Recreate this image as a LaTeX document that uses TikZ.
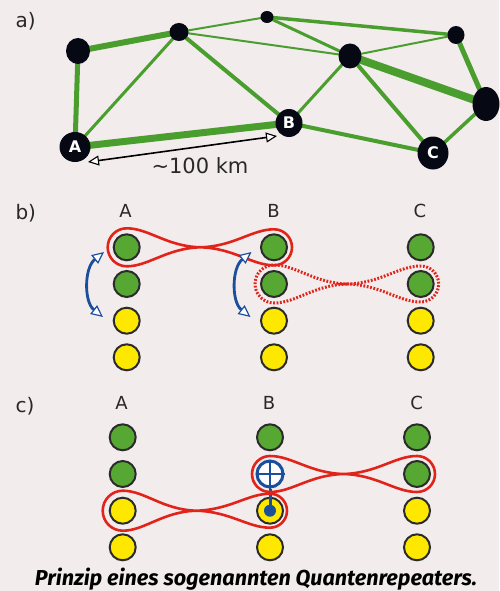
\documentclass[tikz,border=0pt]{standalone}
\usepackage{fontspec}
\setmainfont{DejaVu Sans}
\newfontfamily\capfont{Fira Sans}
\usetikzlibrary{shapes.geometric,arrows.meta}
\definecolor{bgc}{RGB}{243,236,237}
\definecolor{netgreen}{RGB}{74,158,45}
\definecolor{nodeblack}{RGB}{6,9,19}
\definecolor{qgreen}{RGB}{86,168,50}
\definecolor{qyellow}{RGB}{255,232,0}
\definecolor{qborder}{RGB}{43,43,43}
\definecolor{entred}{RGB}{226,35,26}
\definecolor{qblue}{RGB}{26,79,156}
\definecolor{labc}{RGB}{40,40,40}
% #1 options, #2 left x, #3 right x, #4 y, #5 left radius, #6 right radius
\newcommand{\entloop}[6][]{%
 \draw[ent,#1] ({(#2+#3)/2},#4)
  .. controls ({#3-40},{#4-0.9}) and ({#3-22},{#4-#6}) .. (#3,{#4-#6})
  .. controls ({#3+0.552*#6},{#4-#6}) and ({#3+#6},{#4-0.552*#6}) .. ({#3+#6},#4)
  .. controls ({#3+#6},{#4+0.552*#6}) and ({#3+0.552*#6},{#4+#6}) .. (#3,{#4+#6})
  .. controls ({#3-22},{#4+#6}) and ({#3-40},{#4+0.9}) .. ({(#2+#3)/2},#4)
  .. controls ({#2+40},{#4-0.9}) and ({#2+22},{#4-#5}) .. (#2,{#4-#5})
  .. controls ({#2-0.552*#5},{#4-#5}) and ({#2-#5},{#4-0.552*#5}) .. ({#2-#5},#4)
  .. controls ({#2-#5},{#4+0.552*#5}) and ({#2-0.552*#5},{#4+#5}) .. (#2,{#4+#5})
  .. controls ({#2+22},{#4+#5}) and ({#2+40},{#4+0.9}) .. cycle;}
\begin{document}
\begin{tikzpicture}[x=1pt,y=-1pt,
  net/.style 2 args={ellipse, fill=nodeblack, inner sep=0pt, minimum width=#1pt, minimum height=#2pt, text=white, font=\bfseries\fontsize{16}{16}\selectfont},
  lnk/.style={draw=netgreen, line width=#1pt},
  qb/.style={circle, draw=qborder, line width=2pt, minimum size=26pt, inner sep=0pt},
  qg/.style={qb, fill=qgreen},
  qy/.style={qb, fill=qyellow},
  ent/.style={draw=entred, line width=2.6pt, line join=round},
  dotloop/.style={dash pattern=on 1.8pt off 1.6pt, line width=3pt},
  swaparrow/.style={draw=qblue, line width=2.8pt, {Triangle[fill=white, line width=1.2pt, length=12pt, width=11pt]}-{Triangle[fill=white, line width=1.2pt, length=12pt, width=11pt]}},
  kmarrow/.style={draw=black, line width=1.6pt, {Triangle[fill=white, line width=1.1pt, length=11pt, width=10pt]}-{Triangle[fill=white, line width=1.1pt, length=11pt, width=10pt]}},
  panlab/.style={anchor=base west, text=labc, font=\fontsize{20}{20}\selectfont},
  collab/.style={anchor=base, text=labc, font=\fontsize{18}{18}\selectfont}]
\fill[bgc] (0,0) rectangle (499,591);
\useasboundingbox (0,0) rectangle (499,591);
% panel labels
\node[panlab] (la) at (12,28) {a)};
\node[panlab] (lb) at (12,219) {b)};
\node[panlab] (lc) at (12,412) {c)};
% network node positions
\coordinate (n1) at (78,51);
\coordinate (n2) at (179,32);
\coordinate (n3) at (267,17);
\coordinate (n4) at (350,56);
\coordinate (n5) at (456,35);
\coordinate (n6) at (486,104);
\coordinate (A) at (75,147);
\coordinate (B) at (289,123);
\coordinate (C) at (433,153);
% links
\draw[lnk=5] (A) -- (n1);
\draw[lnk=6] (n1) -- (n2);
\draw[lnk=3] (A) -- (n2);
\draw[lnk=7] (A) -- (B);
\draw[lnk=4] (n2) -- (B);
\draw[lnk=2] (n2) -- (n3);
\draw[lnk=2] (n2) -- (n4);
\draw[lnk=3.5] (n3) -- (n5);
\draw[lnk=3] (n3) -- (n4);
\draw[lnk=2] (n4) -- (n5);
\draw[lnk=3] (n4) -- (B);
\draw[lnk=4] (n4) -- (C);
\draw[lnk=8] (n4) -- (n6);
\draw[lnk=5] (n5) -- (n6);
\draw[lnk=3.5] (C) -- (n6);
\draw[lnk=4] (B) -- (C);
% nodes on top
\node[net={24}{26}] (N1) at (n1) {};
\node[net={19}{18}] (N2) at (n2) {};
\node[net={13}{12}] (N3) at (n3) {};
\node[net={23}{25}] (N4) at (n4) {};
\node[net={17}{18}] (N5) at (n5) {};
\node[net={27}{34}] (N6) at (n6) {};
\node[net={31}{30}] (NA) at (A) {A};
\node[net={27}{28}] (NB) at (B) {B};
\node[net={31}{33}] (NC) at (C) {C};
% distance arrow
\coordinate (kmA) at (88,162);
\coordinate (kmB) at (277,136);
\draw[kmarrow] (kmA) -- (kmB);
\node[anchor=base, text=labc, font=\fontsize{21}{21}\selectfont] (km) at (200,173) {\textasciitilde100 km};
% panel b
\node[collab] (bA) at (125.5,217) {A};
\node[collab] (bB) at (273.5,217) {B};
\node[collab] (bC) at (420,217) {C};
\foreach \c/\x in {A/126.7,B/274,C/420.7}{
  \node[qg] (b\c1) at (\x,247.3) {};
  \node[qg] (b\c2) at (\x,284) {};
  \node[qy] (b\c3) at (\x,320.7) {};
  \node[qy] (b\c4) at (\x,357.3) {};
}
\entloop{126.7}{274}{247.3}{19}{18}
\entloop[dotloop]{274}{420.7}{284}{19}{18}
\coordinate (swA1) at (104,252);
\coordinate (swA3) at (103,317);
\coordinate (swB1) at (251.5,252);
\coordinate (swB3) at (250.5,317);
\draw[swaparrow] (swA1) .. controls (84,268) and (84,302) .. (swA3);
\draw[swaparrow] (swB1) .. controls (231.5,268) and (231.5,302) .. (swB3);
% panel c
\node[collab] (cAl) at (121.5,409.3) {A};
\node[collab] (cBl) at (269,409.3) {B};
\node[collab] (cCl) at (416.7,409.3) {C};
\foreach \c/\x in {A/122.7,B/270,C/417}{
  \node[qg] (c\c1) at (\x,437.3) {};
  \node[qy] (c\c3) at (\x,510.7) {};
  \node[qy] (c\c4) at (\x,547.3) {};
}
\node[qg] (cA2) at (122.7,474) {};
\node[qg] (cC2) at (417,474) {};
\node[circle, draw=qblue, line width=3pt, fill=white, minimum size=26pt, inner sep=0pt] (cB2) at (270,474) {};
\draw[qblue, line width=2.5pt] (cB2.north) -- (cB2.south);
\draw[qblue, line width=2.5pt] (cB2.west) -- (cB2.east);
\node[circle, fill=qblue, minimum size=12pt, inner sep=0pt] (ctl) at (270,510.7) {};
\draw[qblue, line width=3pt] (cB2.south) -- (ctl.center);
\entloop{270}{417}{474}{18}{18}
\entloop{122.7}{270}{510.7}{20}{17}
% caption
\node[anchor=base, font=\capfont\bfseries\itshape\fontsize{21.6}{21.6}\selectfont, text=black] (cap) at (256,585) {Prinzip eines sogenannten Quantenrepeaters.};
\end{tikzpicture}
\end{document}
